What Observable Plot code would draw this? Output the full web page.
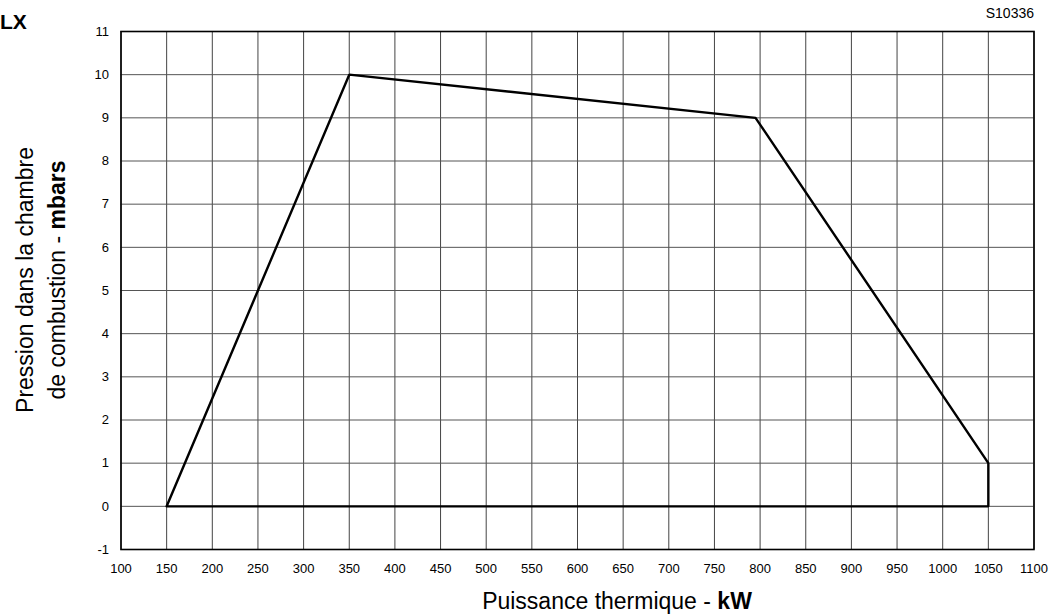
<!DOCTYPE html>
<html>
<head>
<meta charset="utf-8">
<script src="https://cdn.jsdelivr.net/npm/d3@7"></script>
<script src="https://cdn.jsdelivr.net/npm/@observablehq/plot@0.6"></script>
<style>
  html, body { margin: 0; padding: 0; background: #fff; }
  svg { font-family: "Liberation Sans", Arial, sans-serif; }
</style>
</head>
<body>
<div id="chart"></div>
<script>
// Working range polygon (kW, mbar)
const powerKW = [150, 350, 795, 1050, 1050, 150];
const pressureMbar = [0, 10, 9, 1, 0, 0];
const xTicks = d3.range(100, 1101, 50);
const yTicks = d3.range(-1, 12, 1);
const modelLabel = "LX";
const refCode = "S10336";

const pts = powerKW.map((x, i) => ({x, y: pressureMbar[i]}));
const fmt = d => String(d);

const W = 1051, H = 614;
const chart = Plot.plot({
  width: W,
  height: H,
  marginLeft: 120.5,
  marginRight: 17.5,
  marginTop: 31,
  marginBottom: 65,
  style: {fontFamily: "Liberation Sans, Arial, sans-serif", fontSize: "13px", background: "#fff", color: "#000"},
  x: {domain: [100, 1100], ticks: xTicks, label: null, tickSize: 0, tickPadding: 14, tickFormat: fmt},
  y: {domain: [-1, 11], ticks: yTicks, label: null, tickSize: 0, tickPadding: 12, tickFormat: fmt},
  marks: [
    Plot.gridX(xTicks, {stroke: "#444", strokeOpacity: 1, strokeWidth: 1}),
    Plot.gridY(yTicks, {stroke: "#555", strokeOpacity: 1, strokeWidth: 1}),
    Plot.axisX(xTicks, {tickSize: 0, tickPadding: 14, fontSize: 13, fill: "#000", tickFormat: fmt}),
    Plot.axisY(yTicks, {tickSize: 0, tickPadding: 12, fontSize: 13, fill: "#000", tickFormat: fmt}),
    Plot.line(pts, {x: "x", y: "y", stroke: "#000", strokeWidth: 2.4, strokeLinejoin: "miter"}),
    Plot.frame({stroke: "#000", strokeWidth: 1.6})
  ]
});

document.getElementById("chart").appendChild(chart);

const svg = d3.select(chart);
const font = "Liberation Sans, Arial, sans-serif";

// Model label top-left
svg.append("text")
  .attr("x", 0).attr("y", 29)
  .attr("text-anchor", "start")
  .attr("font-family", font).attr("font-size", 21).attr("font-weight", "bold")
  .attr("fill", "#000")
  .text(modelLabel);

// Reference code top-right
svg.append("text")
  .attr("x", 1034).attr("y", 18)
  .attr("text-anchor", "end")
  .attr("font-family", font).attr("font-size", 14)
  .attr("fill", "#000")
  .text(refCode);

// Y axis label (two lines, rotated)
const yl = svg.append("text")
  .attr("transform", "translate(0,280) rotate(-90)")
  .attr("text-anchor", "middle")
  .attr("font-family", font).attr("font-size", 23)
  .attr("fill", "#000");
yl.append("tspan").attr("x", 0).attr("y", 33).text("Pression dans la chambre");
const l2 = yl.append("tspan").attr("x", 0).attr("y", 65);
l2.append("tspan").text("de combustion - ");
l2.append("tspan").attr("font-weight", "bold").text("mbars");

// X axis label
const xl = svg.append("text")
  .attr("x", 617).attr("y", 609)
  .attr("text-anchor", "middle")
  .attr("font-family", font).attr("font-size", 23)
  .attr("fill", "#000");
xl.append("tspan").text("Puissance thermique - ");
xl.append("tspan").attr("font-weight", "bold").text("kW");
</script>
</body>
</html>
